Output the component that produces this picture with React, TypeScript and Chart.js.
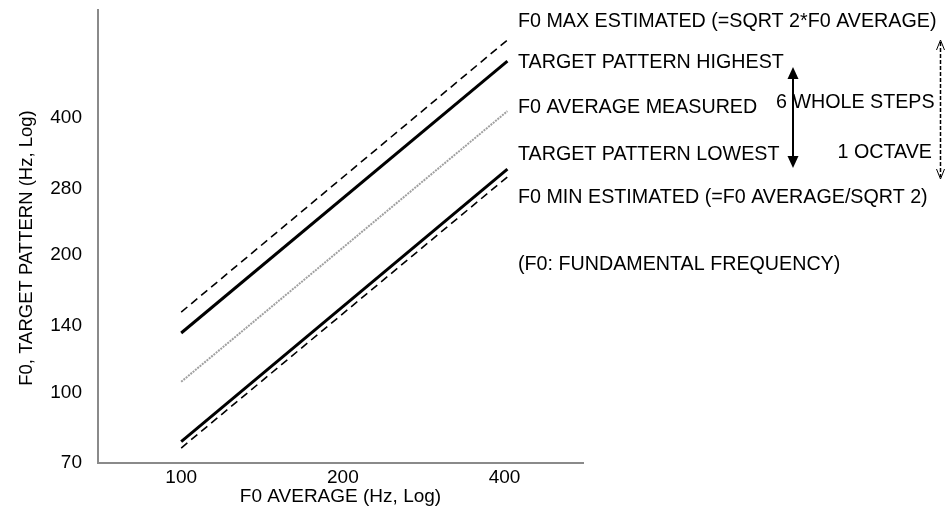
import React, { useEffect, useRef } from "react";
import { Chart, registerables } from "chart.js";

Chart.register(...registerables);

// ---- data ----
const f0Average = [100, 405]; // x (Hz)
const f0MaxEstimated = [150, 593];
const targetHighest = [135, 533];
const f0AverageMeasured = [105.5, 414];
const targetLowest = [78, 309];
const f0MinEstimated = [75.5, 297];

const xTicks = [100, 200, 400];
const yTicks = [70, 100, 140, 200, 280, 400];
const xRange = [70, 560];
const yRange = [70, 690];

const xTitle = "F0 AVERAGE (Hz, Log)";
const yTitle = "F0, TARGET PATTERN (Hz, Log)";

const legendTexts = [
  "F0 MAX ESTIMATED (=SQRT 2*F0 AVERAGE)",
  "TARGET PATTERN HIGHEST",
  "F0 AVERAGE MEASURED",
  "TARGET PATTERN LOWEST",
  "F0 MIN ESTIMATED (=F0 AVERAGE/SQRT 2)",
  "(F0: FUNDAMENTAL FREQUENCY)",
];
const stepsText = "6 WHOLE STEPS";
const octaveText = "1 OCTAVE";

const FONT = "'Liberation Sans', Arial, sans-serif";

const toPoints = (ys: number[]) => ys.map((y, i) => ({ x: f0Average[i], y }));

const annotationPlugin = {
  id: "annotations",
  afterDraw(chart: any) {
    const ctx = chart.ctx as CanvasRenderingContext2D;
    ctx.save();
    ctx.fillStyle = "#000";
    ctx.strokeStyle = "#000";

    // y axis title
    ctx.save();
    ctx.font = `18.5px ${FONT}`;
    ctx.textAlign = "center";
    ctx.textBaseline = "middle";
    ctx.translate(27, 248);
    ctx.rotate(-Math.PI / 2);
    ctx.fillText(yTitle, 0, 0);
    ctx.restore();

    ctx.font = `19.7px ${FONT}`;
    ctx.textBaseline = "middle";
    ctx.textAlign = "left";
    const ys = [22, 63, 108, 155, 198, 265];
    legendTexts.forEach((t, i) => ctx.fillText(t, 518, ys[i]));
    ctx.fillText(stepsText, 776, 103);
    ctx.textAlign = "right";
    ctx.fillText(octaveText, 932, 153);

    // solid double arrow
    const ax = 793;
    ctx.lineWidth = 2;
    ctx.setLineDash([]);
    ctx.beginPath();
    ctx.moveTo(ax, 76);
    ctx.lineTo(ax, 160);
    ctx.stroke();
    ctx.beginPath();
    ctx.moveTo(ax, 67);
    ctx.lineTo(ax - 5.5, 79);
    ctx.lineTo(ax + 5.5, 79);
    ctx.closePath();
    ctx.fill();
    ctx.beginPath();
    ctx.moveTo(ax, 168);
    ctx.lineTo(ax - 5.5, 156);
    ctx.lineTo(ax + 5.5, 156);
    ctx.closePath();
    ctx.fill();

    // dashed double arrow
    const dx = 940.5;
    ctx.lineWidth = 1.5;
    ctx.setLineDash([4, 2]);
    ctx.beginPath();
    ctx.moveTo(dx, 42);
    ctx.lineTo(dx, 177);
    ctx.stroke();
    ctx.setLineDash([]);
    ctx.lineWidth = 1;
    ctx.beginPath();
    ctx.moveTo(dx - 4, 50);
    ctx.lineTo(dx, 40);
    ctx.lineTo(dx + 4, 50);
    ctx.stroke();
    ctx.beginPath();
    ctx.moveTo(dx - 4, 169);
    ctx.lineTo(dx, 179);
    ctx.lineTo(dx + 4, 169);
    ctx.stroke();
    ctx.restore();
  },
};

export default function App() {
  const ref = useRef<HTMLCanvasElement | null>(null);

  useEffect(() => {
    if (!ref.current) return;
    const dashed = { borderColor: "#000", borderWidth: 1.6, borderDash: [8, 5] };
    const solid = { borderColor: "#000", borderWidth: 3 };
    const chart = new Chart(ref.current, {
      type: "line",
      data: {
        datasets: [
          { label: "max", data: toPoints(f0MaxEstimated), ...dashed },
          { label: "highest", data: toPoints(targetHighest), ...solid },
          {
            label: "average",
            data: toPoints(f0AverageMeasured),
            borderColor: "#a0a0a0",
            borderWidth: 2,
            borderDash: [2, 1],
          },
          { label: "lowest", data: toPoints(targetLowest), ...solid },
          { label: "min", data: toPoints(f0MinEstimated), ...dashed },
        ],
      },
      options: {
        animation: false,
        responsive: false,
        layout: { padding: { left: 0, top: 10, right: 365, bottom: 0 } },
        elements: { point: { radius: 0 }, line: { tension: 0 } },
        plugins: { legend: { display: false }, tooltip: { enabled: false } },
        scales: {
          x: {
            type: "logarithmic",
            min: xRange[0],
            max: xRange[1],
            afterBuildTicks: (s: any) => {
              s.ticks = xTicks.map((v) => ({ value: v }));
            },
            afterFit: (s: any) => {
              s.height = 51;
              s.paddingLeft = 0;
              s.paddingRight = 0;
            },
            grid: { display: true, drawOnChartArea: false, drawTicks: false },
            border: { display: true, color: "#8a8a8a", width: 2, dash: [1, 1] },
            ticks: {
              color: "#000",
              font: { family: FONT, size: 19 },
              padding: 3,
              maxRotation: 0,
              autoSkip: false,
              callback: (v: any) => String(v),
            },
            title: {
              display: true,
              text: xTitle,
              color: "#000",
              font: { family: FONT, size: 19 },
              padding: { top: 0, bottom: 6 },
            },
          },
          y: {
            type: "logarithmic",
            min: yRange[0],
            max: yRange[1],
            afterBuildTicks: (s: any) => {
              s.ticks = yTicks.map((v) => ({ value: v }));
            },
            afterFit: (s: any) => {
              s.width = 98;
              s.paddingTop = 0;
              s.paddingBottom = 0;
            },
            grid: { display: true, drawOnChartArea: false, drawTicks: false },
            border: { display: true, color: "#8a8a8a", width: 2, dash: [1, 1] },
            ticks: {
              color: "#000",
              font: { family: FONT, size: 19 },
              padding: 16,
              autoSkip: false,
              callback: (v: any) => String(v),
            },
            title: { display: false },
          },
        },
      },
      plugins: [annotationPlugin],
    } as any);
    return () => chart.destroy();
  }, []);

  return (
    <div style={{ position: "fixed", left: 0, top: 0, width: 948, height: 514, background: "#fff" }}>
      <canvas ref={ref} width={948} height={514} style={{ display: "block" }} />
    </div>
  );
}
